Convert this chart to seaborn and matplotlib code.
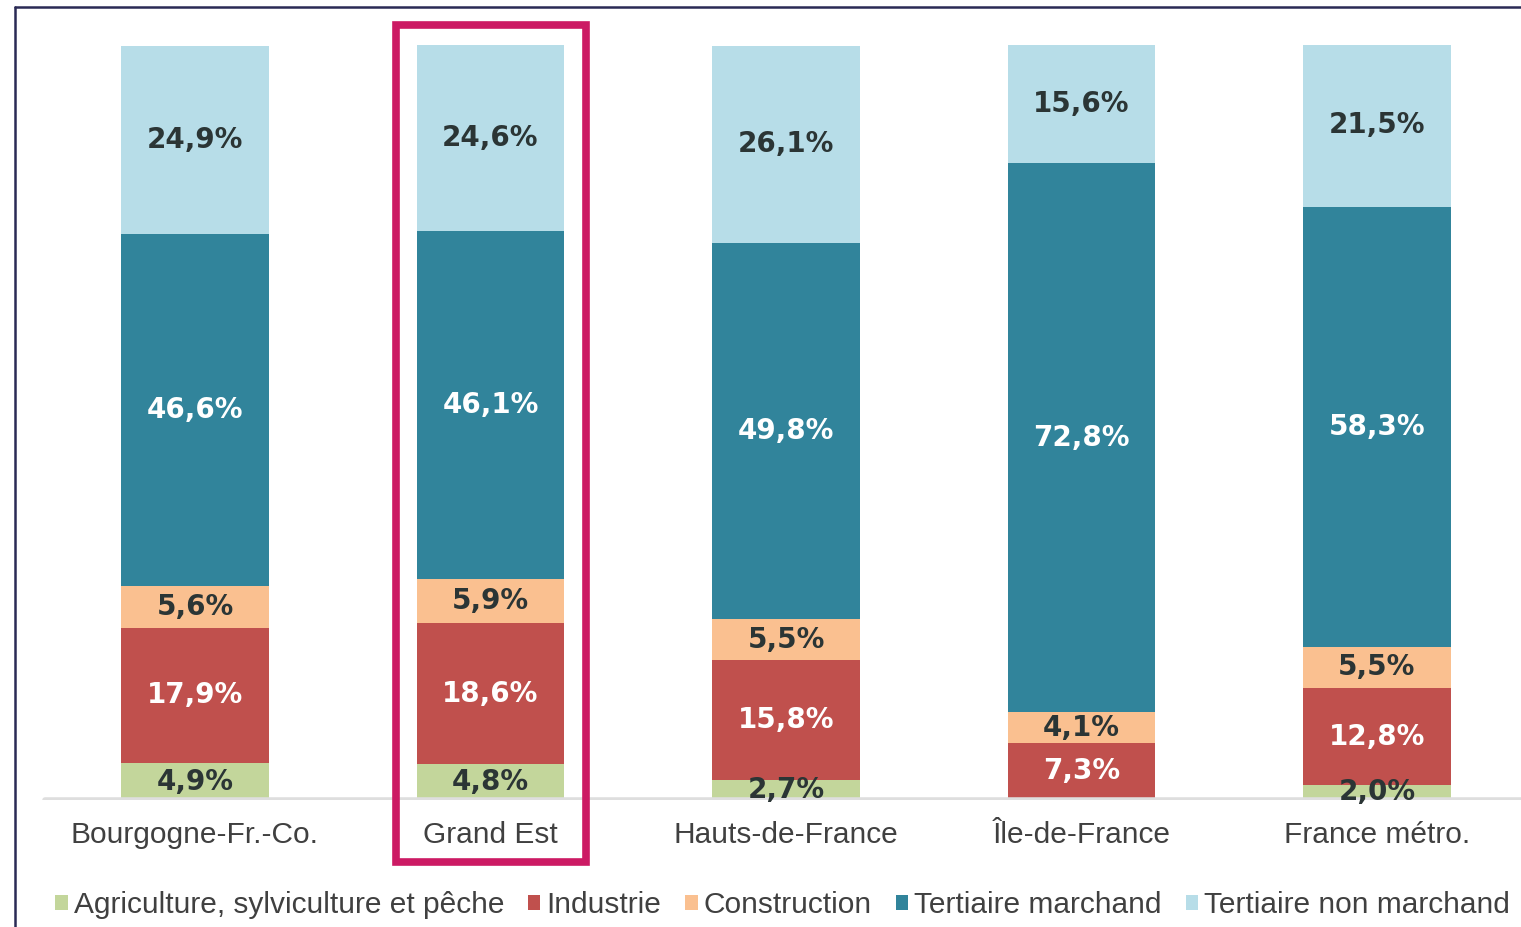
import matplotlib
matplotlib.use("Agg")
import matplotlib.pyplot as plt
from matplotlib.patches import Patch, Rectangle
from matplotlib.lines import Line2D
import seaborn as sns
import numpy as np

# data (%)
regions = ["Bourgogne-Fr.-Co.", "Grand Est", "Hauts-de-France", "Île-de-France", "France métro."]
sectors = ["Agriculture, sylviculture et pêche", "Industrie", "Construction",
           "Tertiaire marchand", "Tertiaire non marchand"]
agriculture = [4.9, 4.8, 2.7, 0.2, 2.0]
industrie = [17.9, 18.6, 15.8, 7.3, 12.8]
construction = [5.6, 5.9, 5.5, 4.1, 5.5]
tertiaire_marchand = [46.6, 46.1, 49.8, 72.8, 58.3]
tertiaire_non_marchand = [24.9, 24.6, 26.1, 15.6, 21.5]

colors = ["#c3d69b", "#c0504d", "#fac090", "#31849b", "#b7dde8"]
text_colors = ["#2b3535", "white", "#2b3535", "white", "#2b3535"]

series = [agriculture, industrie, construction, tertiaire_marchand, tertiaire_non_marchand]

sns.set_style("white")
plt.rcParams["font.family"] = ["Liberation Sans", "DejaVu Sans"]

W, H = 1521, 927
fig = plt.figure(figsize=(W / 100, H / 100), dpi=100)
ax = fig.add_axes([0, 127 / H, 1, 755 / H])

bottoms = np.zeros(len(regions))
for vals, col, tcol in zip(series, colors, text_colors):
    vals = np.array(vals)
    sns.barplot(x=regions, y=vals, bottom=bottoms, color=col, width=0.5,
                saturation=1, ax=ax, linewidth=0, zorder=2)
    for i, v in enumerate(vals):
        if v >= 1:
            ax.text(i, bottoms[i] + v / 2, f"{v:.1f}%".replace(".", ","),
                    ha="center", va="center", color=tcol, fontsize=20,
                    fontweight="bold", family="DejaVu Sans", zorder=4)
    bottoms = bottoms + vals

ax.set_xlim(-195 / 295.5, (W - 195) / 295.5)
ax.set_ylim(0, 100)
ax.set_yticks([])
ax.set_xticks(range(len(regions)))
ax.set_xticklabels(regions, fontsize=21.5, color="#404040")
ax.tick_params(axis="x", length=0, pad=15)
for s in ax.spines.values():
    s.set_visible(False)
ax.set_xlabel("")
ax.set_ylabel("")
ax.axhline(0, xmin=45 / W, xmax=1, color="#dedede", lw=4, zorder=3)

# highlight frame around Grand Est
fig.patches.append(Rectangle((396 / W, (H - 862) / H), 190 / W, 837 / H,
                             transform=fig.transFigure, fill=False,
                             edgecolor="#cc1a64", lw=5.5, zorder=5))

# outer border (left and top)
fig.lines.append(Line2D([15 / W, 15 / W], [0, (H - 7) / H], transform=fig.transFigure,
                        color="#2a2a55", lw=1.8))
fig.lines.append(Line2D([15 / W, 1], [(H - 7) / H, (H - 7) / H], transform=fig.transFigure,
                        color="#2a2a55", lw=1.8))

handles = [Patch(facecolor=c, edgecolor="none", label=l) for c, l in zip(colors, sectors)]
leg = fig.legend(handles=handles, loc="center left", bbox_to_anchor=(55 / W, 22 / H),
                 ncol=5, frameon=False, fontsize=21.5, handlelength=0.42, handleheight=0.42,
                 handletextpad=0.2, columnspacing=0.8, borderaxespad=0, borderpad=0)
for t in leg.get_texts():
    t.set_color("#404040")

fig.savefig("out.png", dpi=100)
